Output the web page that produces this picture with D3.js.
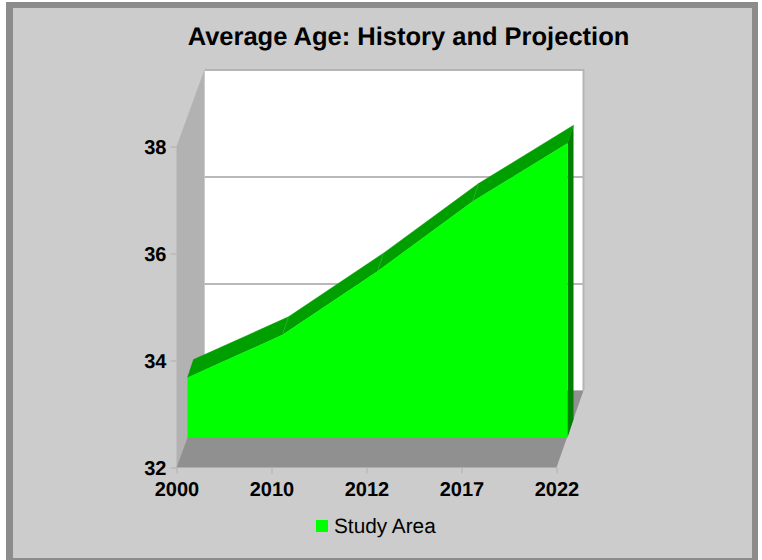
<!DOCTYPE html>
<html lang="en">
	<head>
		<meta charset="UTF-8">
		<title>Average Age</title>
		<script src="https://cdnjs.cloudflare.com/ajax/libs/d3/7.8.5/d3.min.js"></script>
		<style>
			body {margin: 0; background: #fff;}
			svg {display: block;}
			text {font-family: "Liberation Sans", Arial, sans-serif; fill: #000; text-rendering: geometricPrecision;}
		</style>
		<script>
var chartTitle = "Average Age: History and Projection";
var seriesName = "Study Area";
var years = ["2000", "2010", "2012", "2017", "2022"];
var ages = [33.68, 34.48, 35.67, 36.97, 38.06];
var ageTicks = [32, 34, 36, 38];
var gridTicks = [34, 36];

function makeChart() {
	var svg = d3.select("#chart");

	// frame
	svg.append("rect").attr("x", 6).attr("y", 2).attr("width", 752).attr("height", 558).attr("fill", "#8c8c8c");
	svg.append("rect").attr("x", 13).attr("y", 8).attr("width", 739).attr("height", 550).attr("fill", "#cccccc");

	var x = d3.scalePoint().domain(years).range([176.5, 556.5]);
	var y = d3.scaleLinear().domain([32, 38]).range([467.5, 146.5]);

	// depth of the box, and where the area sits in it
	var dx = 28, dy = -77;
	var areaDx = 11, areaDy = -30;
	var slabDx = 6, slabDy = -18;

	var x0 = x.range()[0], x1 = x.range()[1];
	var yBot = y(32), yTop = y(38);

	function poly(pts, fill) {
		return svg.append("polygon")
			.attr("points", pts.map(function(p) {return p.join(",");}).join(" "))
			.attr("fill", fill);
	}

	// walls
	svg.append("rect").attr("x", x0+dx).attr("y", yTop+dy)
		.attr("width", x1-x0-1).attr("height", yBot-yTop)
		.attr("fill", "#ffffff");
	svg.append("path")
		.attr("d", d3.line()([[x0+dx, yTop+dy+0.5], [x1+dx-1, yTop+dy+0.5], [x1+dx-1, yBot+dy]]))
		.attr("fill", "none").attr("stroke", "#b4b4b4").attr("stroke-width", 2);
	poly([[x0, yBot], [x0, yTop], [x0+dx, yTop+dy], [x0+dx, yBot+dy]], "#b2b2b2");
	poly([[x0, yBot], [x1, yBot], [x1+dx-1, yBot+dy], [x0+dx, yBot+dy]], "#909090");

	svg.selectAll("line.grid").data(gridTicks).enter().append("line")
		.attr("class", "grid")
		.attr("x1", x0+dx).attr("x2", x1+dx-1)
		.attr("y1", function(d) {return y(d)+dy+0.5;})
		.attr("y2", function(d) {return y(d)+dy+0.5;})
		.attr("stroke", "#b8b8b8").attr("stroke-width", 2);

	// axes
	var yAxis = svg.append("g").attr("transform", "translate(" + x0 + ",0)")
		.call(d3.axisLeft(y).tickValues(ageTicks).tickSize(6).tickPadding(4).tickFormat(d3.format("d")));
	var xAxis = svg.append("g").attr("transform", "translate(0," + yBot + ")")
		.call(d3.axisBottom(x).tickSize(6).tickPadding(8.5));
	yAxis.select(".domain").remove();
	xAxis.select(".domain").remove();
	yAxis.selectAll(".tick text").attr("y", 1);
	svg.selectAll(".tick line").attr("stroke", "#b0b0b0");
	svg.selectAll(".tick text").attr("font-size", 20).attr("font-weight", "bold")
		.style("font-family", '"Liberation Sans", Arial, sans-serif').attr("fill", "#000");

	// area slab
	var pts = years.map(function(yr, i) {return [x(yr)+areaDx, y(ages[i])];});
	var last = pts[pts.length-1];
	var base = yBot+areaDy;

	// top faces, one per segment
	d3.pairs(pts).forEach(function(s) {
		var a = s[0], b = s[1];
		poly([a, b, [b[0]+slabDx, b[1]+slabDy], [a[0]+slabDx, a[1]+slabDy]], "#009f00")
			.attr("stroke", "#009f00").attr("stroke-width", 0.5);
	});
	// thin lighter seams between segments
	pts.slice(1, -1).forEach(function(p) {
		svg.append("line").attr("x1", p[0]).attr("y1", p[1])
			.attr("x2", p[0]+slabDx).attr("y2", p[1]+slabDy)
			.attr("stroke", "#33b533").attr("stroke-width", 0.6);
	});

	// right side
	poly([[last[0], last[1]], [last[0]+slabDx, last[1]+slabDy], [last[0]+slabDx, base+slabDy], [last[0], base]], "#008000");

	// front
	var area = d3.area()
		.x(function(d) {return x(d.year)+areaDx;})
		.y0(base)
		.y1(function(d) {return y(d.age);});
	svg.append("path")
		.datum(years.map(function(yr, i) {return {year: yr, age: ages[i]};}))
		.attr("d", area)
		.attr("fill", "#00ff00");

	// title
	svg.append("text").attr("x", 408.5).attr("y", 45)
		.attr("text-anchor", "middle").attr("font-size", 25.5).attr("font-weight", "bold")
		.text(chartTitle);

	// legend
	svg.append("rect").attr("x", 316).attr("y", 520).attr("width", 12).attr("height", 12).attr("fill", "#00ff00");
	svg.append("text").attr("x", 334).attr("y", 533)
		.attr("font-size", 20.8).text(seriesName);
}
		</script>
	</head>
	<body onload="makeChart()">
		<svg id="chart" width="762" height="560"></svg>
	</body>
</html>
